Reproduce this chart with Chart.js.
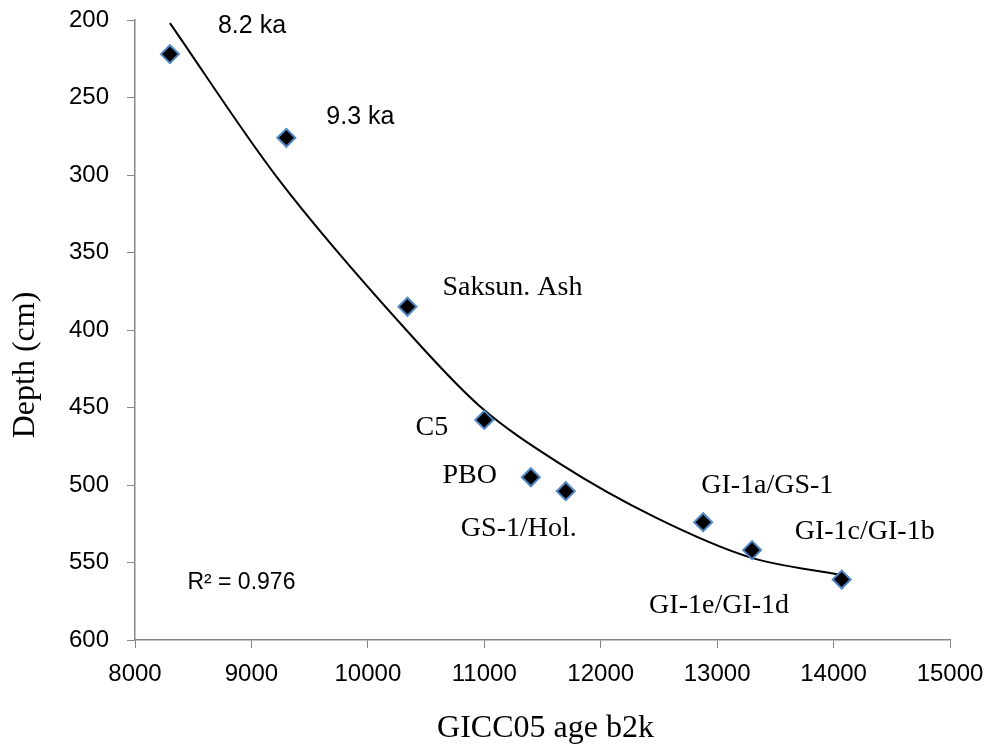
<!DOCTYPE html>
<html>
<head>
<meta charset="utf-8">
<script src="https://cdn.jsdelivr.net/npm/chart.js@4.4.0/dist/chart.umd.min.js"></script>
<style>
  html, body { margin: 0; padding: 0; background: #fff; }
  #wrap { width: 990px; height: 749px; }
</style>
</head>
<body>
<div id="wrap"><canvas id="agedepth"></canvas></div>
<script>
// tie points
var ageB2k = [8300, 9300, 10340, 11000, 11400, 11700, 12880, 13300, 14070];
var depthCm = [222, 276, 385, 458, 495, 504, 524, 542, 561];
var pointNames = ['8.2 ka', '9.3 ka', 'Saksun. Ash', 'C5', 'PBO', 'GS-1/Hol.', 'GI-1a/GS-1', 'GI-1e/GI-1d', 'GI-1c/GI-1b'];

// polynomial trend line as drawn in the figure
var trendAge = [8300, 9215, 10330, 10959, 11645, 12474, 13298, 14066];
var trendDepth = [202, 301, 400, 449, 486, 521, 547, 558];

var xTickValues = [8000, 9000, 10000, 11000, 12000, 13000, 14000, 15000];
var yTickValues = [200, 250, 300, 350, 400, 450, 500, 550, 600];
var rSquaredText = 'R\u00b2 = 0.976';

var serif = '"Liberation Serif", "Times New Roman", serif';
var sans = '"Liberation Sans", Arial, sans-serif';

// where each point's label sits, relative to the marker (px)
var labelPlacement = [
  {dx: 48, dy: -28, align: 'left', font: '25px ' + sans},
  {dx: 40, dy: -21, align: 'left', font: '25px ' + sans},
  {dx: 35, dy: -19, align: 'left', font: '28px ' + serif},
  {dx: -36, dy: 8, align: 'right', font: '28px ' + serif},
  {dx: -34, dy: -2, align: 'right', font: '28px ' + serif},
  {dx: -47, dy: 37, align: 'center', font: '28px ' + serif},
  {dx: -2, dy: -37, align: 'left', font: '28px ' + serif},
  {dx: -33, dy: 56, align: 'center', font: '28px ' + serif},
  {dx: -47, dy: -48, align: 'left', font: '28px ' + serif}
];

var annotations = {
  id: 'annotations',
  afterDatasetsDraw: function(chart) {
    var ctx = chart.ctx;
    var xs = chart.scales.x, ys = chart.scales.y;
    ctx.save();
    ctx.fillStyle = '#000';
    ctx.textBaseline = 'middle';
    pointNames.forEach(function(name, i) {
      var p = labelPlacement[i];
      ctx.font = p.font;
      ctx.textAlign = p.align;
      ctx.fillText(name, xs.getPixelForValue(ageB2k[i]) + p.dx, ys.getPixelForValue(depthCm[i]) + p.dy);
    });
    // R squared note
    ctx.font = '23px ' + sans;
    ctx.textAlign = 'left';
    ctx.fillText(rSquaredText, xs.getPixelForValue(8450), ys.getPixelForValue(563));
    // axis titles
    ctx.font = '32px ' + serif;
    ctx.textAlign = 'center';
    ctx.fillText('GICC05 age b2k', (chart.chartArea.left + chart.chartArea.right) / 2 + 3, 729);
    ctx.translate(26, 365);
    ctx.rotate(-Math.PI / 2);
    ctx.fillText('Depth (cm)', 0, 0);
    ctx.restore();
  }
};

var axisGrey = '#868686';

new Chart('agedepth', {
  type: 'scatter',
  data: {
    datasets: [
      {
        label: 'Tie points',
        data: ageB2k.map(function(a, i) { return {x: a, y: depthCm[i]}; }),
        pointStyle: 'rectRot',
        pointRadius: 9,
        pointHoverRadius: 9,
        pointBackgroundColor: '#000',
        pointBorderColor: '#5087C7',
        pointBorderWidth: 2,
        order: 1
      },
      {
        label: 'Poly. trend',
        data: trendAge.map(function(a, i) { return {x: a, y: trendDepth[i]}; }),
        showLine: true,
        borderColor: '#000',
        borderWidth: 2,
        pointRadius: 0,
        cubicInterpolationMode: 'monotone',
        fill: false,
        order: 2
      }
    ]
  },
  options: {
    responsive: true,
    maintainAspectRatio: false,
    animation: false,
    layout: { padding: { top: 20, right: 40, left: 0, bottom: 0 } },
    plugins: {
      legend: { display: false },
      tooltip: { enabled: false }
    },
    scales: {
      x: {
        type: 'linear',
        min: 8000,
        max: 15000,
        afterBuildTicks: function(s) { s.ticks = xTickValues.map(function(v) { return {value: v}; }); },
        afterFit: function(s) { s.height = 109; s.paddingLeft = 0; s.paddingRight = 0; },
        grid: { drawOnChartArea: false, drawTicks: true, tickLength: 8, color: axisGrey, lineWidth: 1 },
        border: { color: axisGrey, width: 1.5 },
        ticks: {
          color: '#000',
          padding: 12,
          font: { family: sans, size: 24 },
          callback: function(v) { return String(v); }
        }
      },
      y: {
        type: 'linear',
        reverse: true,
        min: 200,
        max: 600,
        afterBuildTicks: function(s) { s.ticks = yTickValues.map(function(v) { return {value: v}; }); },
        afterFit: function(s) { s.width = 135; s.paddingTop = 0; s.paddingBottom = 0; },
        grid: { drawOnChartArea: false, drawTicks: true, tickLength: 8, color: axisGrey, lineWidth: 1 },
        border: { color: axisGrey, width: 1.5 },
        ticks: {
          color: '#000',
          padding: 18,
          font: { family: sans, size: 24 },
          callback: function(v) { return String(v); }
        }
      }
    }
  },
  plugins: [annotations]
});
</script>
</body>
</html>
